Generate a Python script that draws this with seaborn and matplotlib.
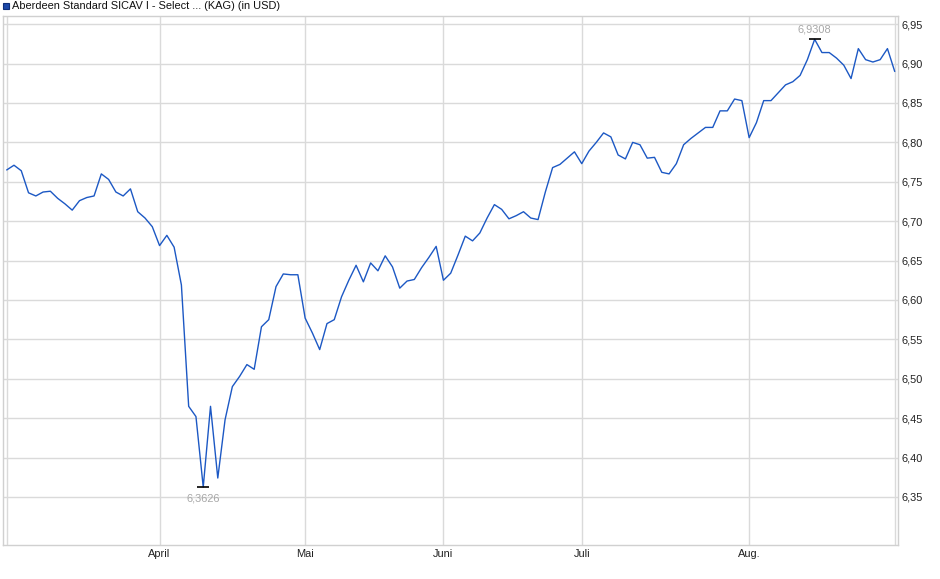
import matplotlib
matplotlib.use("Agg")
import matplotlib.pyplot as plt
from matplotlib.patches import Rectangle
import seaborn as sns
import pandas as pd
import numpy as np

# fund prices (USD), one value per trading day
mar = [6.765, 6.771, 6.764, 6.736, 6.732, 6.737, 6.738, 6.729, 6.722, 6.714,
       6.726, 6.730, 6.732, 6.760, 6.753, 6.737, 6.732, 6.741, 6.712, 6.704,
       6.693]
apr = [6.669, 6.682, 6.667, 6.619, 6.465, 6.452, 6.3626, 6.465, 6.374, 6.448,
       6.490, 6.503, 6.518, 6.512, 6.566, 6.575, 6.617, 6.633, 6.632, 6.632]
may = [6.577, 6.558, 6.537, 6.570, 6.575, 6.604, 6.625, 6.644, 6.623, 6.647,
       6.637, 6.656, 6.642, 6.615, 6.624, 6.626, 6.641, 6.654, 6.668]
jun = [6.625, 6.634, 6.657, 6.681, 6.675, 6.685, 6.704, 6.721, 6.715, 6.703,
       6.707, 6.712, 6.704, 6.702, 6.737, 6.768, 6.772, 6.780, 6.788]
jul = [6.773, 6.789, 6.800, 6.812, 6.807, 6.784, 6.779, 6.800, 6.797, 6.780,
       6.781, 6.762, 6.760, 6.773, 6.797, 6.805, 6.812, 6.819, 6.819, 6.840,
       6.840, 6.855, 6.853]
aug = [6.806, 6.825, 6.853, 6.853, 6.863, 6.873, 6.877, 6.885, 6.905, 6.9308,
       6.914, 6.914, 6.907, 6.898, 6.881, 6.919, 6.905, 6.902, 6.905, 6.919,
       6.890]

# Luxembourg fund holidays -> trading calendar
holidays = ['2025-04-18', '2025-04-21', '2025-05-01', '2025-05-09',
            '2025-05-29', '2025-06-09', '2025-06-23', '2025-08-15']
month_names = ['April', 'Mai', 'Juni', 'Juli', 'Aug.']
yticks = [6.35, 6.40, 6.45, 6.50, 6.55, 6.60, 6.65, 6.70, 6.75, 6.80, 6.85, 6.90, 6.95]

title = 'Aberdeen Standard SICAV I - Select ... (KAG) (in USD)'

values = mar + apr + may + jun + jul + aug
dates = pd.bdate_range('2025-03-03', '2025-09-01', freq='C', holidays=holidays)
df = pd.DataFrame({'date': dates, 'price': values})
df['idx'] = np.arange(len(df))

# first trading day of each month gets a gridline
firsts = df.groupby(df['date'].dt.to_period('M'))['idx'].min().values
month_pos = list(firsts[1:6])

sns.set_style('white')
plt.rcParams['font.family'] = ['Liberation Sans', 'DejaVu Sans']

W, H = 940, 579
fs = 7.9
fig = plt.figure(figsize=(W / 100, H / 100), dpi=100)
ax = fig.add_axes([2.7 / W, 1 - 545 / H, (898 - 2.7) / W, (545 - 16) / H])

grid_c = '#dadada'
n = len(df) - 1
for p in [0] + month_pos + [n]:
    ax.axvline(p, color=grid_c, lw=1.0, zorder=0)
for t in yticks:
    ax.axhline(t, color=grid_c, lw=1.0, zorder=0)

sns.lineplot(data=df, x='idx', y='price', ax=ax, color='#1c58c4', lw=1.0)

ax.set_xlim(-0.55, n + 0.45)
ax.set_ylim(6.289, 6.9604)

ax.set_xticks([0] + month_pos)
ax.set_xticklabels([''] + month_names)
ax.yaxis.tick_right()
ax.set_yticks(yticks)
ax.set_yticklabels([f'{t:.2f}'.replace('.', ',') for t in yticks])
ax.tick_params(axis='both', labelsize=fs, labelcolor='#222222', color=grid_c, width=1)
ax.tick_params(axis='x', length=1.5, pad=1.2)
ax.tick_params(axis='y', length=0, pad=2.6)
ax.set_xlabel('')
ax.set_ylabel('')
for s in ax.spines.values():
    s.set_color('#d0d0d0')
    s.set_linewidth(1.0)

# min / max markers
lo = df['price'].idxmin()
hi = df['price'].idxmax()
for i, dy, va in [(lo, -4.5, 'top'), (hi, 3.5, 'bottom')]:
    x, y = df.loc[i, 'idx'], df.loc[i, 'price']
    ax.plot([x], [y], marker='_', ms=8, mew=1.2, color='black', zorder=4)
    ax.annotate(f'{y:.4f}'.replace('.', ','), (x, y), xytext=(0, dy),
                textcoords='offset points', ha='center', va=va,
                fontsize=fs, color='#a7a7a7')

# header
fig.add_artist(Rectangle((2.7 / W, 1 - 8.9 / H), 6.2 / W, 6.2 / H, transform=fig.transFigure,
                         facecolor='#1c48a8', edgecolor='#0f2f7a', lw=0.8))
fig.text(12 / W, 1 - 6 / H, title, fontsize=fs, color='#111111', va='center', ha='left')

fig.savefig('out.png', dpi=100)
